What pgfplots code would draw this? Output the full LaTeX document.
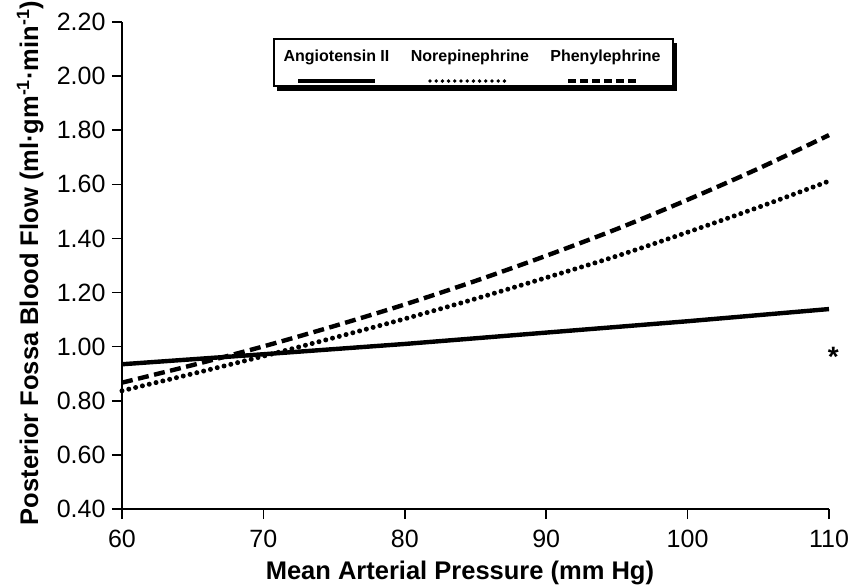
\documentclass[border=0pt]{standalone}
\usepackage{fontspec}
\setmainfont{Liberation Sans}
\usepackage{pgfplots}
\pgfplotsset{compat=1.18}

\begin{document}
\begin{tikzpicture}
\begin{axis}[
  scale only axis,
  width=707bp, height=487bp,
  xmin=60, xmax=110,
  ymin=0.4, ymax=2.2,
  xtick={60,70,80,90,100,110},
  ytick={0.4,0.6,0.8,1.0,1.2,1.4,1.6,1.8,2.0,2.2},
  axis lines=left,
  axis line style={-, line width=1.5bp},
  tick align=outside,
  major tick length=10bp,
  tick style={black, line width=1.5bp},
  tick label style={font=\fontsize{25bp}{29bp}\selectfont},
  /pgf/number format/assume math mode=true,
  xticklabel style={yshift=-8bp},
  yticklabel style={xshift=-3bp, /pgf/number format/.cd, fixed, fixed zerofill, precision=2},
  label style={font=\bfseries\fontsize{25.5bp}{30bp}\selectfont},
  xlabel={Mean Arterial Pressure (mm Hg)},
  xlabel style={at={(axis description cs:0.478,-0.144)}, anchor=base},
  ylabel={Posterior Fossa Blood Flow (ml·gm\textsuperscript{-1}·min\textsuperscript{-1})},
  ylabel style={at={(axis description cs:-0.130,0.505)}, anchor=center},
  clip=false,
]
% Angiotensin II
\addplot[black, line width=4.4bp] coordinates {
  (60,0.935) (70,0.972) (80,1.010) (90,1.052) (100,1.094) (110,1.139)};
% Norepinephrine
\addplot[black, smooth, line width=5bp, line cap=round, dash pattern=on 0bp off 7bp] coordinates {
  (60,0.837) (65,0.900) (70,0.965) (75,1.033) (80,1.103) (85,1.177)
  (90,1.255) (95,1.335) (100,1.423) (105,1.515) (110,1.612)};
% Phenylephrine
\addplot[black, smooth, line width=4.4bp, dash pattern=on 11bp off 5.5bp] coordinates {
  (60,0.867) (65,0.932) (70,1.001) (75,1.076) (80,1.156) (85,1.243)
  (90,1.336) (95,1.435) (100,1.543) (105,1.658) (110,1.782)};

\node[anchor=base, inner sep=0pt, font=\bfseries\fontsize{28bp}{28bp}\selectfont] at (axis cs:110.3,0.925) {*};

\coordinate (sw) at (rel axis cs:0,0);
\coordinate (ne) at (rel axis cs:1,1);
\coordinate (lg) at (rel axis cs:0.215,0.965);
\end{axis}

% legend box
\fill[black] ([shift={(3bp,-46bp)}]lg) rectangle ([shift={(403bp,-52bp)}]lg);
\fill[black] ([shift={(398bp,-4bp)}]lg) rectangle ([shift={(403bp,-52bp)}]lg);
\draw[line width=1.3bp, fill=white] (lg) rectangle ([shift={(399bp,-47bp)}]lg);
\begin{scope}[font=\bfseries\fontsize{16bp}{18bp}\selectfont]
  \node[anchor=base, inner sep=0pt] at ([shift={(62.5bp,-22bp)}]lg) {Angiotensin II};
  \node[anchor=base, inner sep=0pt] at ([shift={(196bp,-22bp)}]lg) {Norepinephrine};
  \node[anchor=base, inner sep=0pt] at ([shift={(331.5bp,-22bp)}]lg) {Phenylephrine};
\end{scope}
\draw[line width=3.2bp] ([shift={(24bp,-42bp)}]lg) -- ([shift={(101bp,-42bp)}]lg);
\draw[line width=3.8bp, line cap=round, dash pattern=on 0bp off 6.2bp] ([shift={(156bp,-42bp)}]lg) -- ([shift={(231bp,-42bp)}]lg);
\draw[line width=3.2bp, dash pattern=on 8bp off 4bp] ([shift={(294bp,-42bp)}]lg) -- ([shift={(364bp,-42bp)}]lg);

\pgfresetboundingbox
\path ([shift={(-122bp,-77bp)}]sw) rectangle ([shift={(22bp,22bp)}]ne);
\end{tikzpicture}
\end{document}
